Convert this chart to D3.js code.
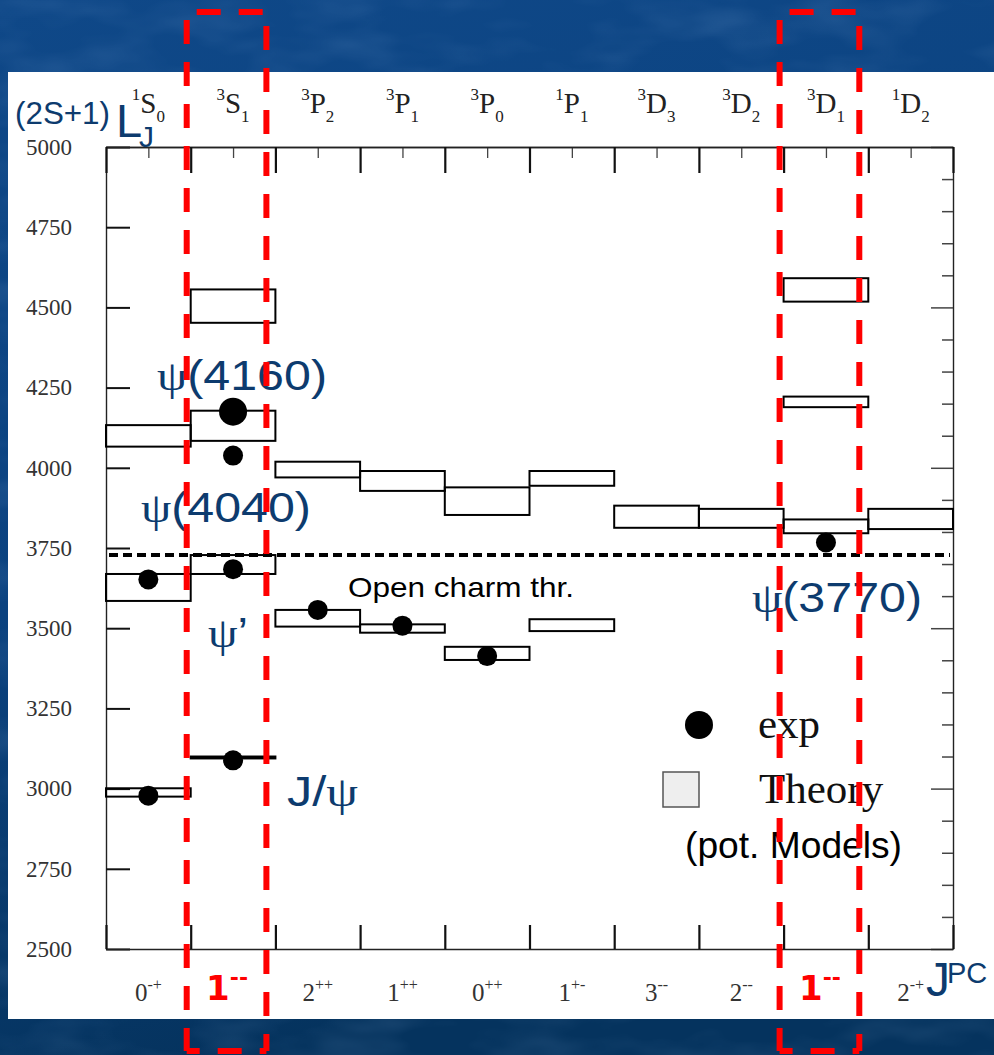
<!DOCTYPE html>
<html>
<head>
<meta charset="utf-8">
<title>Charmonium spectrum</title>
<script src="https://d3js.org/d3.v7.min.js"></script>
<style>
  html, body { margin: 0; padding: 0; background: #0c4381; overflow: hidden; }
  svg { display: block; }
</style>
</head>
<body>
<div id="chart"></div>
<script>
// ---- Data --------------------------------------------------------------------
// spectroscopic columns (2S+1)L_J and their J^PC
const spinMult = [1, 3, 3, 3, 3, 1, 3, 3, 3, 1];
const orbital  = ['S', 'S', 'P', 'P', 'P', 'P', 'D', 'D', 'D', 'D'];
const totalJ   = [0, 1, 2, 1, 0, 1, 3, 2, 1, 2];
const jpcJ     = ['0', '1', '2', '1', '0', '1', '3', '2', '1', '2'];
const jpcPC    = ['-+', '--', '++', '++', '++', '+-', '--', '--', '--', '-+'];

// theory bands from potential models: column, low / high mass [MeV]
const theoryCol = [0, 0, 0, 1, 1, 1, 1, 2, 2, 3, 3, 4, 4, 5, 5, 6, 7, 8, 8, 8, 9];
const theoryLo  = [4066, 3585, 2975, 4452, 4084, 3669, 3094, 3970, 3505, 3928, 3486,
                   3853, 3401, 3944, 3491, 3813, 3813, 4518, 4189, 3796, 3809];
const theoryHi  = [4133, 3669, 3001, 4556, 4178, 3728, 3100, 4019, 3557, 3990, 3512,
                   3939, 3442, 3990, 3528, 3882, 3872, 4591, 4222, 3839, 3872];

// measured states
const expName = ['ηc', 'ηc(2S)', 'J/ψ', "ψ'", 'ψ(4040)', 'ψ(4160)', 'χc2', 'χc1', 'χc0', 'ψ(3770)'];
const expCol  = [0, 0, 1, 1, 1, 1, 2, 3, 4, 8];
const expMass = [2978, 3652, 3088, 3684, 4038, 4175, 3557, 3508, 3413, 3767];

const openCharm = 3728;                       // D Dbar threshold
const massTicks = d3.range(2500, 5001, 250);

// ---- Frame -------------------------------------------------------------------
const W = 994, H = 1055;
const M = { left: 106, right: 953, top: 147, bottom: 949 };
const BLUE = '#0d3b6e';
const SANS = "'Liberation Sans', Arial, sans-serif";
const SERIF = "'Liberation Serif', 'Times New Roman', serif";

const x = d3.scaleLinear().domain([0, spinMult.length]).range([M.left, M.right]);
const y = d3.scaleLinear().domain([2500, 5000]).range([M.bottom, M.top]);

const svg = d3.select('#chart').append('svg')
  .attr('width', W).attr('height', H)
  .attr('viewBox', `0 0 ${W} ${H}`);

// slide background: blue with a soft mottled texture
const defs = svg.append('defs');
const grad = defs.append('linearGradient').attr('id', 'bg-grad')
  .attr('x1', 0).attr('y1', 0).attr('x2', 0.25).attr('y2', 1);
grad.append('stop').attr('offset', '0%').attr('stop-color', '#0f4888');
grad.append('stop').attr('offset', '55%').attr('stop-color', '#0b427f');
grad.append('stop').attr('offset', '100%').attr('stop-color', '#05335e');

const mottle = defs.append('filter').attr('id', 'mottle')
  .attr('x', 0).attr('y', 0).attr('width', 1).attr('height', 1);
mottle.append('feTurbulence').attr('type', 'fractalNoise')
  .attr('baseFrequency', '0.01 0.025').attr('numOctaves', 3).attr('seed', 7);
mottle.append('feColorMatrix').attr('type', 'matrix')
  .attr('values', '0 0 0 0 0.35  0 0 0 0 0.55  0 0 0 0 0.85  0.6 0 0 0 -0.26');

svg.append('rect').attr('width', W).attr('height', H).attr('fill', 'url(#bg-grad)');
svg.append('rect').attr('width', W).attr('height', H).attr('filter', 'url(#mottle)').attr('opacity', 0.45);

// white plot panel
svg.append('rect').attr('x', 8).attr('y', 72).attr('width', W - 8).attr('height', 947).attr('fill', '#fff');

// ---- Axes --------------------------------------------------------------------
function styleAxis(g, w, col) {
  g.select('.domain').attr('stroke', '#222').attr('stroke-width', 1.4);
  g.selectAll('.tick line').attr('stroke', col).attr('stroke-width', w);
}

// left: mass labels every 250 MeV, ticks inward
svg.append('g')
  .attr('transform', `translate(${M.left},0)`)
  .call(d3.axisLeft(y).tickValues(massTicks).tickSize(-24).tickSizeOuter(0).tickPadding(34).tickFormat(d3.format('d')))
  .call(g => styleAxis(g, 2, '#111'))
  .call(g => g.attr('font-family', null).attr('font-size', null))
  .call(g => g.selectAll('text').attr('fill', '#333')
    .style('font-family', SERIF).style('font-size', '23px'));

// right: minor every 100, major every 500
svg.append('g')
  .attr('transform', `translate(${M.right},0)`)
  .call(d3.axisRight(y).tickValues(d3.range(2500, 5001, 100)).tickSize(-11).tickSizeOuter(0).tickFormat(''))
  .call(g => styleAxis(g, 1.5, '#444'))
  .call(g => g.selectAll('.tick line').attr('x2', d => d % 500 === 0 ? -22 : -11));

// top: column borders + centre marks
svg.append('g')
  .attr('transform', `translate(0,${M.top})`)
  .call(d3.axisTop(x).tickValues(d3.range(0.5, spinMult.length, 1)).tickSize(-11).tickSizeOuter(0).tickFormat(''))
  .call(g => styleAxis(g, 1.3, '#444'));
svg.append('g')
  .attr('transform', `translate(0,${M.top})`)
  .call(d3.axisTop(x).tickValues(d3.range(0, spinMult.length + 1)).tickSize(-26).tickSizeOuter(0).tickFormat(''))
  .call(g => styleAxis(g, 2.2, '#111'));

// bottom: column borders
svg.append('g')
  .attr('transform', `translate(0,${M.bottom})`)
  .call(d3.axisBottom(x).tickValues(d3.range(0, spinMult.length + 1)).tickSize(-24).tickSizeOuter(0).tickFormat(''))
  .call(g => styleAxis(g, 2.2, '#111'));

// top labels (2S+1)L_J
const topLab = svg.append('g').style('font-family', SERIF).attr('fill', '#222');
spinMult.forEach((s, i) => {
  const t = topLab.append('text').attr('x', x(i + 0.5)).attr('y', 113).attr('text-anchor', 'middle');
  t.append('tspan').attr('font-size', 17).attr('dy', -13).text(s);
  t.append('tspan').attr('font-size', 29).attr('dy', 13).text(orbital[i]);
  t.append('tspan').attr('font-size', 17).attr('dy', 9).text(totalJ[i]);
});

// bottom labels J^PC (the 1-- columns are marked in red)
const isVector = i => jpcJ[i] === '1' && jpcPC[i] === '--';
const botLab = svg.append('g');
jpcJ.forEach((j, i) => {
  if (isVector(i)) {
    const t = botLab.append('text').attr('x', x(i + 0.5) - 6).attr('y', 1000)
      .attr('text-anchor', 'middle').style('font-family', "'DejaVu Sans', sans-serif")
      .attr('font-weight', 'bold').attr('fill', '#ff0000');
    t.append('tspan').attr('font-size', 34).text(j);
    t.append('tspan').attr('font-size', 22).attr('dy', -15).text(jpcPC[i]);
  } else {
    const t = botLab.append('text').attr('x', x(i + 0.5)).attr('y', 1001)
      .attr('text-anchor', 'middle').style('font-family', SERIF).attr('fill', '#333');
    t.append('tspan').attr('font-size', 25).text(j);
    t.append('tspan').attr('font-size', 16).attr('dy', -11).text(jpcPC[i]);
  }
});

// axis names
const yName = svg.append('g').style('font-family', SANS).attr('fill', BLUE);
yName.append('text').attr('x', 15).attr('y', 124).attr('font-size', 32)
  .attr('textLength', 95).attr('lengthAdjust', 'spacingAndGlyphs').text('(2S+1)');
yName.append('text').attr('x', 116).attr('y', 137).attr('font-size', 47).text('L');
yName.append('text').attr('x', 139).attr('y', 147).attr('font-size', 30).text('J');

const xName = svg.append('g').style('font-family', SANS).attr('fill', BLUE);
xName.append('text').attr('x', 926).attr('y', 996).attr('font-size', 48).text('J');
xName.append('text').attr('x', 947).attr('y', 983).attr('font-size', 29).text('PC');

// ---- Theory bands ------------------------------------------------------------
svg.append('g').selectAll('rect')
  .data(theoryCol.map((c, i) => ({ c, lo: theoryLo[i], hi: theoryHi[i] })))
  .join('rect')
  .attr('x', d => x(d.c))
  .attr('y', d => y(d.hi))
  .attr('width', d => x(d.c + 1) - x(d.c))
  .attr('height', d => y(d.lo) - y(d.hi))
  .attr('fill', 'none')
  .attr('stroke', '#000')
  .attr('stroke-width', 2);

// open charm threshold
svg.append('line')
  .attr('x1', M.left + 3).attr('x2', M.right - 3)
  .attr('y1', y(openCharm)).attr('y2', y(openCharm))
  .attr('stroke', '#000').attr('stroke-width', 4).attr('stroke-dasharray', '9 5');

svg.append('text')
  .attr('x', x(2.857)).attr('y', y(3597))
  .style('font-family', SANS).attr('font-size', 28).attr('fill', '#000')
  .attr('textLength', 226).attr('lengthAdjust', 'spacingAndGlyphs')
  .text('Open charm thr.');

// ---- Experimental points -----------------------------------------------------
svg.append('g').selectAll('circle')
  .data(expCol.map((c, i) => ({ c, m: expMass[i], name: expName[i] })))
  .join('circle')
  .attr('cx', d => x(d.c + 0.5))
  .attr('cy', d => y(d.m))
  .attr('r', d => d.name === 'ψ(4160)' ? 14 : 10)
  .attr('fill', '#000');

// ---- State names -------------------------------------------------------------
const notes = [
  { pre: '', psi: 'ψ', post: '(4160)', c: 0.602, m: 4242, w: 170 },
  { pre: '', psi: 'ψ', post: '(4040)', c: 0.413, m: 3831, w: 170 },
  { pre: '', psi: 'ψ', post: '’',      c: 1.204, m: 3441, w: 40 },
  { pre: 'J/', psi: 'ψ', post: '',     c: 2.137, m: 2946, w: 71 },
  { pre: '', psi: 'ψ', post: '(3770)', c: 7.627, m: 3550, w: 170 }
];
const noteG = svg.append('g').style('font-family', SANS).attr('font-size', 43).attr('fill', BLUE);
notes.forEach(n => {
  const t = noteG.append('text').attr('x', x(n.c)).attr('y', y(n.m))
    .attr('textLength', n.w).attr('lengthAdjust', 'spacingAndGlyphs');
  if (n.pre) t.append('tspan').text(n.pre);
  t.append('tspan').style('font-family', SERIF).text(n.psi);
  if (n.post) t.append('tspan').text(n.post);
});

// ---- Legend ------------------------------------------------------------------
const leg = svg.append('g');
leg.append('circle').attr('cx', 699).attr('cy', 725).attr('r', 14).attr('fill', '#000');
leg.append('rect').attr('x', 663).attr('y', 772).attr('width', 36).attr('height', 35)
  .attr('fill', '#eee').attr('stroke', '#555').attr('stroke-width', 1.5);
leg.append('text').attr('x', 758).attr('y', 738).style('font-family', SERIF).attr('font-size', 43)
  .attr('fill', '#111').text('exp');
leg.append('text').attr('x', 759).attr('y', 803).style('font-family', SERIF).attr('font-size', 43)
  .attr('fill', '#111').text('Theory');
leg.append('text').attr('x', 685).attr('y', 858).style('font-family', SANS).attr('font-size', 37)
  .attr('fill', '#000').attr('textLength', 217).attr('lengthAdjust', 'spacingAndGlyphs')
  .text('(pot. Models)');

// ---- Red dashed frames round the 1-- columns -------------------------------
const redG = svg.append('g').attr('stroke', '#ff0000').attr('stroke-width', 6)
  .attr('stroke-dasharray', '24 18').attr('fill', 'none');
d3.range(jpcJ.length).filter(isVector).forEach(c => {
  const l = x(c) - 4, r = x(c + 1) - 9, t = 12, b = 1051;
  [[l, t, r, t, 32], [r, t, r, b, 28], [l, t, l, b, 34], [l, b, r, b, 11]].forEach(e => {
    redG.append('line')
      .attr('x1', e[0]).attr('y1', e[1]).attr('x2', e[2]).attr('y2', e[3])
      .attr('stroke-dashoffset', e[4]);
  });
});
</script>
</body>
</html>
